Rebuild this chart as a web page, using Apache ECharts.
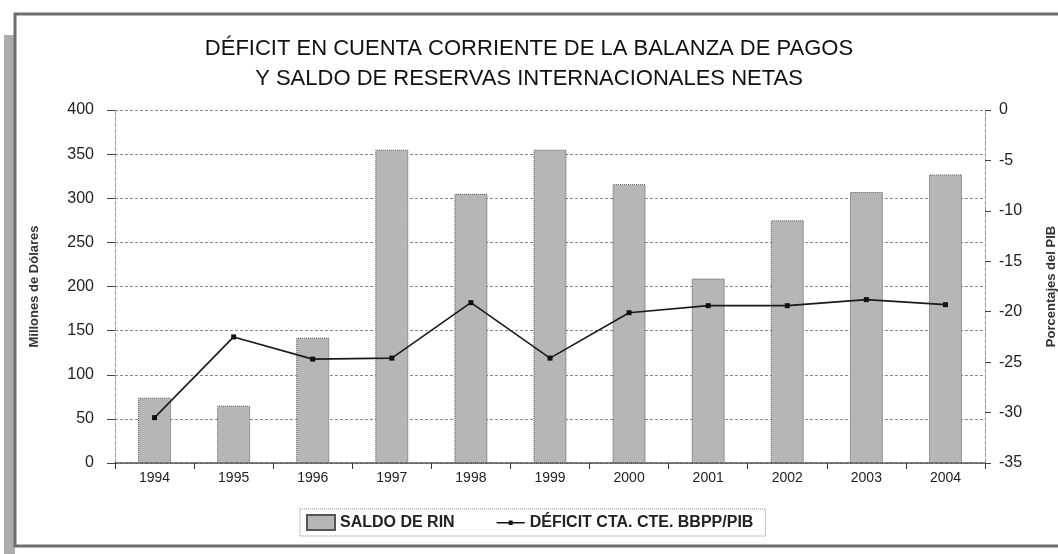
<!DOCTYPE html>
<html>
<head>
<meta charset="utf-8">
<script src="https://cdn.jsdelivr.net/npm/echarts@6/dist/echarts.min.js"></script>
<style>
html,body{margin:0;padding:0;background:#fff;}
#chart{width:1058px;height:554px;}
</style>
</head>
<body>
<div id="chart"></div>
<script>
var categories = ['1994','1995','1996','1997','1998','1999','2000','2001','2002','2003','2004'];
var saldoRIN = [74, 65, 142, 355, 305, 355, 316, 209, 275, 307, 327];
var deficitPIB = [-30.5, -22.5, -24.7, -24.6, -19.1, -24.6, -20.1, -19.4, -19.4, -18.8, -19.3];
var leftTicks = [0, 400, 50];
var rightTicks = [-35, 0, 5];

var font = 'Liberation Sans, Arial, sans-serif';
var chart = echarts.init(document.getElementById('chart'));
chart.setOption({
  backgroundColor: '#fff',
  animation: false,
  textStyle: { fontFamily: font },
  graphic: [
    { type: 'rect', z: -1, shape: { x: 4, y: 35, width: 11, height: 519 }, style: { fill: '#acacac' } },
    { type: 'rect', z: -1, shape: { x: 15, y: 14, width: 1060, height: 532 }, style: { fill: '#fff', stroke: '#6e6e6e', lineWidth: 3 } }
  ],
  title: {
    text: 'DÉFICIT EN CUENTA CORRIENTE DE LA BALANZA DE PAGOS\nY SALDO DE RESERVAS INTERNACIONALES NETAS',
    left: 'center',
    top: 29,
    textStyle: { fontFamily: font, fontSize: 22, fontWeight: 'normal', color: '#111', lineHeight: 30 }
  },
  legend: {
    left: 300,
    top: 509,
    padding: [5, 12, 5, 6],
    itemGap: 42,
    itemWidth: 28,
    itemHeight: 15,
    borderColor: '#888',
    borderWidth: 1,
    borderType: 'dotted',
    textStyle: { fontFamily: font, fontSize: 16, fontWeight: 'bold', color: '#222' },
    data: [
      { name: 'SALDO DE RIN', icon: 'rect' },
      { name: 'DÉFICIT CTA. CTE. BBPP/PIB', icon: 'path://M0,0 M0,7 L28,7 L28,8.5 L0,8.5 Z M12,5.5 L16,5.5 L16,10 L12,10 Z M28,15' }
    ]
  },
  grid: { left: 115, right: 73, top: 110, bottom: 91, outerBoundsMode: 'none', containLabel: false },
  xAxis: {
    type: 'category',
    data: categories,
    axisLine: { lineStyle: { color: '#555', width: 1.5 } },
    axisTick: { show: true, length: 6, lineStyle: { color: '#333' } },
    axisLabel: { fontFamily: font, fontSize: 14, color: '#222', margin: 8 }
  },
  yAxis: [
    {
      type: 'value',
      min: leftTicks[0], max: leftTicks[1], interval: leftTicks[2],
      name: 'Millones de Dólares',
      nameLocation: 'middle',
      nameGap: 74,
      nameRotate: 90,
      nameTextStyle: { fontFamily: font, fontSize: 13, fontWeight: 'bold', color: '#333' },
      axisLine: { show: true, lineStyle: { color: '#999', type: 'dashed' } },
      axisTick: { show: true, length: 8, lineStyle: { color: '#444' } },
      axisLabel: { fontFamily: font, fontSize: 16, color: '#222', margin: 21 },
      splitLine: { show: true, lineStyle: { color: '#8a8a8a', type: [3, 2], width: 1 } }
    },
    {
      type: 'value',
      min: rightTicks[0], max: rightTicks[1], interval: rightTicks[2],
      position: 'right',
      name: 'Porcentajes del PIB',
      nameLocation: 'middle',
      nameGap: 60,
      nameRotate: 90,
      nameTextStyle: { fontFamily: font, fontSize: 13, fontWeight: 'bold', color: '#333' },
      axisLine: { show: true, lineStyle: { color: '#999', type: 'dashed' } },
      axisTick: { show: true, length: 6, lineStyle: { color: '#444' } },
      axisLabel: { fontFamily: font, fontSize: 16, color: '#222', margin: 14 },
      splitLine: { show: false }
    }
  ],
  series: [
    {
      name: 'SALDO DE RIN',
      type: 'bar',
      yAxisIndex: 0,
      data: saldoRIN,
      barWidth: 33,
      itemStyle: { color: '#b6b6b6', borderColor: '#555', borderWidth: 1, borderType: 'dotted' }
    },
    {
      name: 'DÉFICIT CTA. CTE. BBPP/PIB',
      type: 'line',
      yAxisIndex: 1,
      data: deficitPIB,
      symbol: 'rect',
      symbolSize: 5,
      lineStyle: { color: '#1a1a1a', width: 1.6 },
      itemStyle: { color: '#111' },
      z: 5
    }
  ]
});
</script>
</body>
</html>
